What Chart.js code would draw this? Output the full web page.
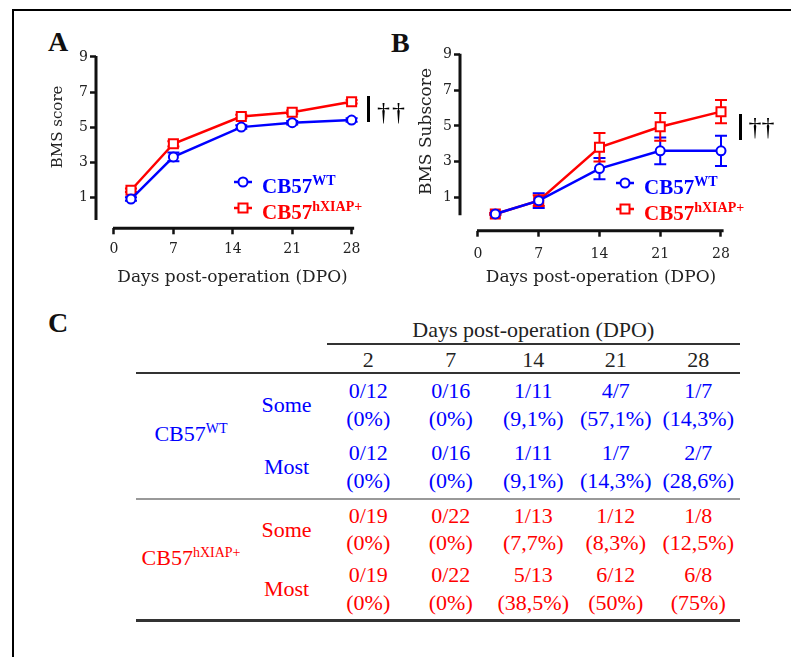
<!DOCTYPE html>
<html>
<head>
<meta charset="utf-8">
<script src="https://cdn.jsdelivr.net/npm/chart.js@4.4.0/dist/chart.umd.min.js"></script>
<style>
  html, body { margin: 0; padding: 0; background: #fff; width: 791px; height: 657px; overflow: hidden; }
  #frame { position: absolute; left: 12px; top: 9px; width: 900px; height: 900px;
           border-left: 2px solid #000; border-top: 2px solid #000; }
  canvas { position: absolute; }
  #cA { left: 20px; top: 15px; }
  #cB { left: 385px; top: 15px; }
  .panel { position: absolute; font: bold 28px "Liberation Serif"; line-height: 28px; color: #111; }
  .leg { position: absolute; font: bold 21px "Liberation Serif"; line-height: 21px; white-space: nowrap; }
  .leg sup, .grp sup { font-size: 14px; vertical-align: 0; position: relative; top: -8px; }
  .mk { position: absolute; }
  .bar { position: absolute; width: 3.5px; height: 26px; background: #000; }
  .dag { position: absolute; font: 26px "Liberation Serif"; line-height: 26px; color: #000; }
  #tbl { position: absolute; left: 136px; top: 318px; border-collapse: collapse; table-layout: fixed;
         width: 603.5px; font-family: "Liberation Serif"; font-size: 22px; color: #222; }
  #tbl td { padding: 0; text-align: center; vertical-align: middle; line-height: 27.5px; }
  #tbl tr.r1 td { height: 24.7px; line-height: 24px; }
  #tbl tr.r1 td.dpo { border-bottom: 2.5px solid #333; }
  #tbl tr.r2 td { height: 24px; padding-top: 3px; line-height: 24px; border-bottom: 2.5px solid #333; }
  #tbl tr.g0 td { height: 62px; }
  #tbl tr.g1 td { height: 59.5px; }
  #tbl tr.sep td { border-top: 2px solid #999; }
  #tbl tr.last td, #tbl td.lastgrp { border-bottom: 3px solid #333; }
  .grp { white-space: nowrap; }
</style>
</head>
<body>
<div id="frame"></div>

<div class="panel" style="left:48px;top:27.6px">A</div>
<div class="panel" style="left:391px;top:28.6px">B</div>
<div class="panel" style="left:48px;top:308.6px">C</div>

<canvas id="cA" width="369" height="285"></canvas>
<canvas id="cB" width="377" height="285"></canvas>

<div class="bar" style="left:366.5px;top:96px"></div>
<div class="dag" style="left:377px;top:99.2px;letter-spacing:2px">††</div>
<div class="bar" style="left:738.5px;top:114px"></div>
<div class="dag" style="left:748.5px;top:114.2px">††</div>

<div id="legends"></div>
<table id="tbl"></table>

<script>
const BLUE = '#0000ff';
const RED = '#ff0000';

// x ticks / y ticks shared by both panels
const xTicks = [0, 7, 14, 21, 28];
const yTicks = [1, 3, 5, 7, 9];

// panel A: BMS score
const daysA = [2, 7, 15, 21, 28];
const wtA = [0.9, 3.3, 5.0, 5.25, 5.4];
const wtErrA = [0.1, 0.25, 0.1, 0.1, 0.1];
const hxA = [1.4, 4.05, 5.6, 5.85, 6.45];
const hxErrA = [0.1, 0.15, 0.1, 0.1, 0.1];

// panel B: BMS subscore
const daysB = [2, 7, 14, 21, 28];
const wtB = [0.05, 0.8, 2.6, 3.6, 3.6];
const wtErrB = [0.05, 0.42, 0.6, 0.75, 0.85];
const hxB = [0.05, 0.8, 3.8, 4.95, 5.8];
const hxErrB = [0.05, 0.3, 0.8, 0.78, 0.65];

// panel C table
const tableDays = [2, 7, 14, 21, 28];
const wtSomeN = ['0/12', '0/16', '1/11', '4/7', '1/7'];
const wtSomeP = ['0%', '0%', '9,1%', '57,1%', '14,3%'];
const wtMostN = ['0/12', '0/16', '1/11', '1/7', '2/7'];
const wtMostP = ['0%', '0%', '9,1%', '14,3%', '28,6%'];
const hxSomeN = ['0/19', '0/22', '1/13', '1/12', '1/8'];
const hxSomeP = ['0%', '0%', '7,7%', '8,3%', '12,5%'];
const hxMostN = ['0/19', '0/22', '5/13', '6/12', '6/8'];
const hxMostP = ['0%', '0%', '38,5%', '50%', '75%'];

Chart.defaults.font.family = 'DejaVu Serif';
Chart.defaults.color = '#222';

// prism style axes: lines drawn from scale values, not touching each other
const offsetAxes = {
  id: 'offsetAxes',
  afterDraw(chart, args, opts) {
    const { ctx, chartArea, scales: { x, y } } = chart;
    ctx.save();
    ctx.strokeStyle = '#111';
    ctx.lineWidth = 3;
    ctx.beginPath();
    ctx.moveTo(chartArea.left, y.getPixelForValue(yTicks[yTicks.length - 1]) - 1);
    ctx.lineTo(chartArea.left, y.getPixelForValue(opts.yEnd));
    ctx.moveTo(x.getPixelForValue(xTicks[0]) - 1, chartArea.bottom);
    ctx.lineTo(x.getPixelForValue(opts.xEnd), chartArea.bottom);
    ctx.stroke();
    ctx.restore();
  }
};

// SEM bars under the markers
const errorBars = {
  id: 'errorBars',
  beforeDatasetsDraw(chart) {
    const { ctx, scales: { x, y } } = chart;
    chart.data.datasets.forEach(ds => {
      ctx.save();
      ctx.strokeStyle = ds.borderColor;
      ctx.lineWidth = 2;
      ds.data.forEach((p, j) => {
        const e = ds.errors[j];
        const px = x.getPixelForValue(p.x);
        const top = y.getPixelForValue(p.y + e);
        const bot = y.getPixelForValue(p.y - e);
        ctx.beginPath();
        ctx.moveTo(px, top); ctx.lineTo(px, bot);
        ctx.moveTo(px - 6, top); ctx.lineTo(px + 6, top);
        ctx.moveTo(px - 6, bot); ctx.lineTo(px + 6, bot);
        ctx.stroke();
      });
      ctx.restore();
    });
  }
};

function series(days, vals) {
  return days.map((d, i) => ({ x: d, y: vals[i] }));
}

function makePanel(id, days, wt, wtErr, hx, hxErr, yTitle, lay) {
  return new Chart(document.getElementById(id), {
    type: 'line',
    data: {
      datasets: [
        {
          label: 'CB57WT', data: series(days, wt), errors: wtErr,
          borderColor: BLUE, backgroundColor: '#fff', borderWidth: 2.5, clip: false,
          pointStyle: 'circle', pointRadius: 4.5, pointBorderWidth: 2, tension: 0
        },
        {
          label: 'CB57hXIAP+', data: series(days, hx), errors: hxErr,
          borderColor: RED, backgroundColor: '#fff', borderWidth: 2.5, clip: false,
          pointStyle: 'rect', pointRadius: 6.4, pointBorderWidth: 2, tension: 0
        }
      ]
    },
    options: {
      responsive: false,
      animation: false,
      layout: { padding: { left: 0, top: lay.top, right: lay.right, bottom: 0 } },
      plugins: {
        legend: { display: false },
        tooltip: { enabled: false },
        offsetAxes: { yEnd: lay.yEnd, xEnd: 28.3 }
      },
      scales: {
        x: {
          type: 'linear', min: lay.xMin, max: lay.xMax,
          afterBuildTicks: s => { s.ticks = xTicks.map(v => ({ value: v })); },
          afterFit: s => { s.height = lay.xH; },
          border: { display: false },
          grid: { drawOnChartArea: false, tickLength: 6, tickWidth: 2.5, tickColor: '#111' },
          ticks: { padding: lay.xTickPad, font: { size: 14 } },
          title: {
            display: true, text: 'Days post-operation (DPO)',
            font: { size: 17 }, padding: { top: 0, bottom: 11.8 }
          }
        },
        y: {
          min: lay.yMin, max: lay.yMax,
          afterBuildTicks: s => { s.ticks = yTicks.map(v => ({ value: v })); },
          afterFit: s => { s.width = lay.yW; },
          border: { display: false },
          grid: { drawOnChartArea: false, tickLength: 6, tickWidth: 2.5, tickColor: '#111' },
          ticks: { padding: 2, font: { size: 14 } },
          title: {
            display: true, text: yTitle,
            font: { size: lay.yTitleSize }, padding: { top: lay.yTitlePad, bottom: 0 }
          }
        }
      }
    },
    plugins: [offsetAxes, errorBars]
  });
}

makePanel('cA', daysA, wtA, wtErrA, hxA, hxErrA, 'BMS score', {
  top: 8.7, right: 20, xH: 71.7, yW: 76, xMin: -2.12, xMax: 30.05, xTickPad: 7,
  yMin: -0.77, yMax: 10.8, yEnd: -0.3, yTitleSize: 15, yTitlePad: 29.3
});
makePanel('cB', daysB, wtB, wtErrB, hxB, hxErrB, 'BMS Subscore', {
  top: 17.3, right: 20, xH: 69.3, yW: 75, xMin: -2.07, xMax: 30.42, xTickPad: 9,
  yMin: -0.89, yMax: 10.26, yEnd: -0.02, yTitleSize: 17, yTitlePad: 31.5
});

// legends (superscripts need html text)
const legendItems = [
  { x: 243, y: 182, color: BLUE, shape: 'circle', sup: 'WT' },
  { x: 243, y: 208, color: RED, shape: 'rect', sup: 'hXIAP+' },
  { x: 625, y: 183, color: BLUE, shape: 'circle', sup: 'WT' },
  { x: 625, y: 209, color: RED, shape: 'rect', sup: 'hXIAP+' }
];
const legBox = document.getElementById('legends');
legendItems.forEach(it => {
  const mark = it.shape === 'circle'
    ? `<circle cx="10" cy="7" r="4.5" fill="#fff" stroke="${it.color}" stroke-width="2"/>`
    : `<rect x="5.5" y="2.5" width="9" height="9" fill="#fff" stroke="${it.color}" stroke-width="2"/>`;
  legBox.insertAdjacentHTML('beforeend',
    `<svg class="mk" style="left:${it.x - 10}px;top:${it.y - 7}px" width="20" height="14">` +
    `<line x1="1" y1="7" x2="19" y2="7" stroke="${it.color}" stroke-width="2.5"/>${mark}</svg>` +
    `<div class="leg" style="left:${it.x + 19}px;top:${it.y - 6.5}px;color:${it.color}">CB57<sup>${it.sup}</sup></div>`);
});

// table C
const tbl = document.getElementById('tbl');
let html = '<colgroup><col style="width:110px"><col style="width:81px">' +
  tableDays.map(() => '<col style="width:82.5px">').join('') + '</colgroup>';
html += '<tr class="r1"><td colspan="2"></td><td colspan="5" class="dpo">Days post-operation (DPO)</td></tr>';
html += '<tr class="r2"><td colspan="2"></td>' + tableDays.map(d => `<td>${d}</td>`).join('') + '</tr>';
const groups = [
  { sup: 'WT', color: BLUE, rows: [['Some', wtSomeN, wtSomeP], ['Most', wtMostN, wtMostP]] },
  { sup: 'hXIAP+', color: RED, rows: [['Some', hxSomeN, hxSomeP], ['Most', hxMostN, hxMostP]] }
];
groups.forEach((g, gi) => {
  const lastGroup = gi === groups.length - 1;
  g.rows.forEach((r, ri) => {
    const cls = ['g' + gi, lastGroup && ri === 0 ? 'sep' : '', lastGroup && ri === 1 ? 'last' : ''].join(' ');
    html += `<tr class="${cls}" style="color:${g.color}">`;
    if (ri === 0) html += `<td rowspan="2" class="grp${lastGroup ? ' lastgrp' : ''}">CB57<sup>${g.sup}</sup></td>`;
    html += `<td>${r[0]}</td>`;
    html += r[1].map((n, k) => `<td>${n}<br>(${r[2][k]})</td>`).join('');
    html += '</tr>';
  });
});
tbl.innerHTML = html;
</script>
</body>
</html>
